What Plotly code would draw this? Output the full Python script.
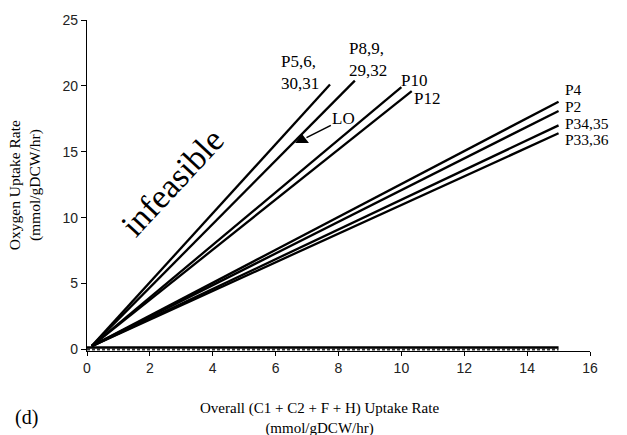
import plotly.graph_objects as go

# Overall uptake rate (x) vs oxygen uptake rate (y) for each phenotype group
line_names = ["P5,6,30,31", "P8,9,29,32", "P10", "P12", "P4", "P2", "P34,35", "P33,36"]
x_start = [0.15, 0.15, 0.15, 0.15, 0.15, 0.15, 0.15, 0.15]
y_start = [0.25, 0.25, 0.25, 0.25, 0.25, 0.25, 0.25, 0.25]
x_end = [7.73, 8.52, 10.0, 10.33, 15.0, 15.0, 15.0, 15.0]
y_end = [20.1, 20.4, 19.9, 19.6, 18.8, 18.1, 17.0, 16.4]

# Zero-oxygen phenotypes along the bottom
flat_x = [0, 15]
flat_y = [0.15, 0.15]
dash_x = [0, 15]
dash_y = [0.0, 0.0]

# LO point
lo_x = [6.84]
lo_y = [15.9]

x_ticks = [0, 2, 4, 6, 8, 10, 12, 14, 16]
y_ticks = [0, 5, 10, 15, 20, 25]

serif = "Liberation Serif, Times New Roman, serif"
sans = "Liberation Sans, Arial, sans-serif"

fig = go.Figure()

for name, xs, ys, xe, ye in zip(line_names, x_start, y_start, x_end, y_end):
    fig.add_trace(go.Scatter(x=[xs, xe], y=[ys, ye], mode="lines", name=name,
                             line=dict(color="black", width=2.3), showlegend=False))

fig.add_trace(go.Scatter(x=dash_x, y=dash_y, mode="lines", showlegend=False,
                         line=dict(color="#333", width=2, dash="3px,2px")))
fig.add_trace(go.Scatter(x=flat_x, y=flat_y, mode="lines", showlegend=False,
                         line=dict(color="black", width=2.6)))
fig.add_trace(go.Scatter(x=lo_x, y=lo_y, mode="markers", showlegend=False,
                         marker=dict(symbol="triangle-up", size=12, color="black")))

# Line labels
labels = [
    ("P5,6,<br>30,31", 6.77, 21.0, "center", 17),
    ("P8,9,<br>29,32", 8.94, 22.0, "center", 17),
    ("P10", 10.4, 20.4, "center", 17),
    ("P12", 10.81, 19.05, "center", 17),
    ("P4", 15.14, 19.75, "left", 15.5),
    ("P2", 15.14, 18.45, "left", 15.5),
    ("P34,35", 15.14, 17.15, "left", 15.5),
    ("P33,36", 15.14, 15.9, "left", 15.5),
    ("P37,38, 45-52", 16.06, 1.0, "right", 17),
]
for text, x, y, anchor, size in labels:
    fig.add_annotation(x=x, y=y, xref="x", yref="y", text=text, showarrow=False,
                       xanchor=anchor, yanchor="middle", align="left",
                       font=dict(family=serif, size=size, color="black"))

fig.add_annotation(x=lo_x[0], y=lo_y[0], ax=8.17, ay=17.5, axref="x", ayref="y",
                   xref="x", yref="y", text="LO", showarrow=True, arrowhead=0,
                   arrowwidth=1.6, arrowcolor="black", standoff=5,
                   font=dict(family=serif, size=17, color="black"))

fig.add_annotation(x=2.7, y=12.7, xref="x", yref="y", text="infeasible",
                   showarrow=False, textangle=-47,
                   font=dict(family=serif, size=34, color="black"))

# Axis titles and panel tag
fig.add_annotation(x=0.463, y=-0.204, xref="paper", yref="paper",
                   text="Overall (C1 + C2 + F + H) Uptake Rate<br>(mmol/gDCW/hr)",
                   showarrow=False, xanchor="center", yanchor="middle",
                   font=dict(family=serif, size=15, color="black"))
fig.add_annotation(x=-0.124, y=0.5, xref="paper", yref="paper",
                   text="Oxygen Uptake Rate<br>(mmol/gDCW/hr)", textangle=-90,
                   showarrow=False, xanchor="center", yanchor="middle",
                   font=dict(family=serif, size=15.5, color="black"))
fig.add_annotation(x=-0.12, y=-0.2, xref="paper", yref="paper", text="(d)",
                   showarrow=False, xanchor="center", yanchor="middle",
                   font=dict(family=serif, size=20, color="black"))

fig.update_xaxes(range=[0, 16], tickvals=x_ticks, showgrid=False, zeroline=False,
                 showline=True, linecolor="black", linewidth=1.3,
                 ticks="outside", ticklen=4, tickcolor="black",
                 tickfont=dict(family=sans, size=14, color="#222"))
fig.update_yaxes(range=[-0.12, 25], tickvals=y_ticks, showgrid=False, zeroline=False,
                 showline=True, linecolor="black", linewidth=1.3,
                 ticks="outside", ticklen=5, tickcolor="black",
                 tickfont=dict(family=sans, size=14, color="#222"))

fig.update_layout(width=627, height=435, margin=dict(l=87, r=37, t=16, b=84),
                  plot_bgcolor="white", paper_bgcolor="white")

fig.write_html("out.html")
